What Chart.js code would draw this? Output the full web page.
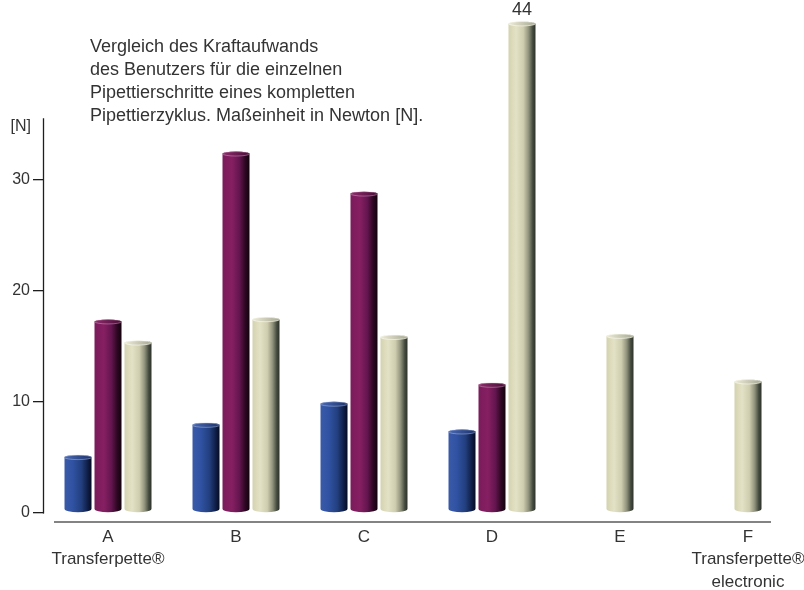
<!DOCTYPE html>
<html>
<head>
<meta charset="utf-8">
<script src="https://cdn.jsdelivr.net/npm/chart.js@4.4.1/dist/chart.umd.min.js"></script>
<style>
  html, body { margin: 0; padding: 0; background: #ffffff; overflow: hidden; }
  #wrap { width: 804px; height: 590px; overflow: hidden; }
</style>
</head>
<body>
<div id="wrap"><canvas id="chart" width="812" height="590"></canvas></div>
<script>
// Pipettes compared (x axis categories)
const categories = [['A', 'Transferpette®'], 'B', 'C', 'D', 'E', ['F', 'Transferpette®', 'electronic']];
// Force per pipetting step in newtons; null = step not measured for that pipette
const step1Values = [5.0, 7.9, 9.8, 7.3, null, null];
const step2Values = [17.2, 32.3, 28.7, 11.5, null, null];
const step3Values = [15.3, 17.4, 15.8, 44, 15.9, 11.8];
// Y axis tick labels
const yTickValues = [0, 10, 20, 30];
// Explanatory note in the upper left
const noteLines = [
  'Vergleich des Kraftaufwands',
  'des Benutzers für die einzelnen',
  'Pipettierschritte eines kompletten',
  'Pipettierzyklus. Maßeinheit in Newton [N].'
];
const unitLabel = '[N]';
// Bars whose value is written above them
const labelledBars = [{ series: 2, index: 3 }];

const FONT = '"Liberation Sans", Arial, Helvetica, sans-serif';
const TEXT = '#333333';

const shades = [
  { // blue
    body: [[0, '#3a5aa9'], [0.3, '#3152a2'], [0.62, '#22407f'], [0.85, '#101f4a'], [1, '#050b20']],
    cap: [[0, '#4a69b4'], [1, '#1d336c']],
    rim: 'rgba(190,205,235,0.55)'
  },
  { // maroon
    body: [[0, '#7a1c5b'], [0.35, '#861f63'], [0.62, '#651550'], [0.84, '#2e0722'], [1, '#12020c']],
    cap: [[0, '#8d2d6c'], [1, '#4a0d38']],
    rim: 'rgba(230,190,215,0.5)'
  },
  { // beige
    body: [[0, '#d3d2b0'], [0.28, '#e4e2c6'], [0.55, '#cfcdb0'], [0.75, '#8e917a'], [0.9, '#444a3e'], [1, '#2c322a']],
    cap: [[0, '#ecebd8'], [1, '#a8a994']],
    rim: 'rgba(250,250,240,0.8)'
  }
];

function drawCylinder(ctx, x, top, base, w, shade) {
  const l = x - w / 2, r = x + w / 2, rx = w / 2;
  const ryTop = 2.2, ryBot = 3.6;
  const g = ctx.createLinearGradient(l, 0, r, 0);
  shade.body.forEach(([o, c]) => g.addColorStop(o, c));
  ctx.save();
  ctx.beginPath();
  ctx.moveTo(l, top);
  ctx.lineTo(l, base - ryBot);
  ctx.ellipse(x, base - ryBot, rx, ryBot, 0, Math.PI, 0, true);
  ctx.lineTo(r, top);
  ctx.ellipse(x, top, rx, ryTop, 0, 0, Math.PI, true);
  ctx.closePath();
  ctx.fillStyle = g;
  ctx.fill();
  const tg = ctx.createLinearGradient(l, 0, r, 0);
  shade.cap.forEach(([o, c]) => tg.addColorStop(o, c));
  ctx.beginPath();
  ctx.ellipse(x, top, rx, ryTop, 0, 0, Math.PI * 2);
  ctx.fillStyle = tg;
  ctx.fill();
  ctx.strokeStyle = shade.rim;
  ctx.lineWidth = 0.8;
  ctx.stroke();
  ctx.restore();
}

// Draws each bar element as a shaded cylinder, plus value labels
const cylinderPlugin = {
  id: 'cylinders',
  afterDatasetsDraw(chart) {
    const ctx = chart.ctx;
    chart.data.datasets.forEach((ds, di) => {
      const meta = chart.getDatasetMeta(di);
      meta.data.forEach((bar, i) => {
        if (ds.data[i] == null) return;
        const p = bar.getProps(['x', 'y', 'base', 'width'], true);
        drawCylinder(ctx, p.x, p.y, p.base, p.width, shades[di]);
      });
    });
    ctx.save();
    ctx.font = '18px ' + FONT;
    ctx.fillStyle = TEXT;
    ctx.textAlign = 'center';
    ctx.textBaseline = 'alphabetic';
    labelledBars.forEach(({ series, index }) => {
      const bar = chart.getDatasetMeta(series).data[index];
      const p = bar.getProps(['x', 'y'], true);
      ctx.fillText(String(chart.data.datasets[series].data[index]), p.x, p.y - 9);
    });
    ctx.restore();
  }
};

// Axis lines, unit label and note text
const decorPlugin = {
  id: 'decor',
  afterDraw(chart) {
    const ctx = chart.ctx;
    const ys = chart.scales.y, xs = chart.scales.x;
    const ca = chart.chartArea;
    const y0 = ys.getPixelForValue(0);
    const yTop = ys.getPixelForValue(35.5);
    ctx.save();
    // vertical axis
    ctx.strokeStyle = '#1e1e1e';
    ctx.lineWidth = 1.3;
    ctx.beginPath();
    ctx.moveTo(Math.round(ca.left) - 0.5, yTop);
    ctx.lineTo(Math.round(ca.left) - 0.5, y0 + 0.6);
    ctx.stroke();
    // category baseline below the bars
    ctx.strokeStyle = '#5a5a5a';
    ctx.lineWidth = 1.6;
    ctx.beginPath();
    ctx.moveTo(ca.left + 10, y0 + 9);
    ctx.lineTo(xs.getPixelForValue(5) + 23, y0 + 9);
    ctx.stroke();
    // unit
    ctx.fillStyle = TEXT;
    ctx.font = '16px ' + FONT;
    ctx.textAlign = 'right';
    ctx.textBaseline = 'middle';
    ctx.fillText(unitLabel, ca.left - 13, yTop + 8);
    // note
    ctx.font = '18px ' + FONT;
    ctx.textAlign = 'left';
    ctx.textBaseline = 'alphabetic';
    noteLines.forEach((line, i) => ctx.fillText(line, 90, 52 + i * 23));
    ctx.restore();
  }
};

const hidden = 'rgba(0,0,0,0)';
new Chart(document.getElementById('chart'), {
  type: 'bar',
  data: {
    labels: categories,
    datasets: [
      { label: 'Schritt 1', data: step1Values, backgroundColor: hidden, skipNull: true },
      { label: 'Schritt 2', data: step2Values, backgroundColor: hidden, skipNull: true },
      { label: 'Schritt 3', data: step3Values, backgroundColor: hidden, skipNull: true }
    ]
  },
  options: {
    responsive: false,
    animation: false,
    devicePixelRatio: 1,
    layout: { padding: { top: 11, right: 0, left: 0, bottom: 0 } },
    datasets: {
      bar: { categoryPercentage: 0.703, barPercentage: 0.9, maxBarThickness: 27 }
    },
    plugins: {
      legend: { display: false },
      tooltip: { enabled: false }
    },
    scales: {
      x: {
        grid: { display: false, drawTicks: false },
        border: { display: false },
        ticks: {
          color: TEXT,
          font: { family: FONT, size: 17, lineHeight: 1.32 },
          padding: 13,
          autoSkip: false,
          maxRotation: 0
        },
        afterFit(scale) {
          scale.height = 77;
          scale.paddingLeft = 0;
          scale.paddingRight = 0;
        }
      },
      y: {
        min: 0,
        max: 45,
        afterBuildTicks(scale) { scale.ticks = yTickValues.map(v => ({ value: v })); },
        ticks: { color: TEXT, font: { family: FONT, size: 16 }, padding: 3 },
        grid: { drawOnChartArea: false, drawTicks: true, tickLength: 11, color: '#1e1e1e', lineWidth: 1.3 },
        border: { display: false },
        afterFit(scale) { scale.width = 44; }
      }
    }
  },
  plugins: [cylinderPlugin, decorPlugin]
});
</script>
</body>
</html>
